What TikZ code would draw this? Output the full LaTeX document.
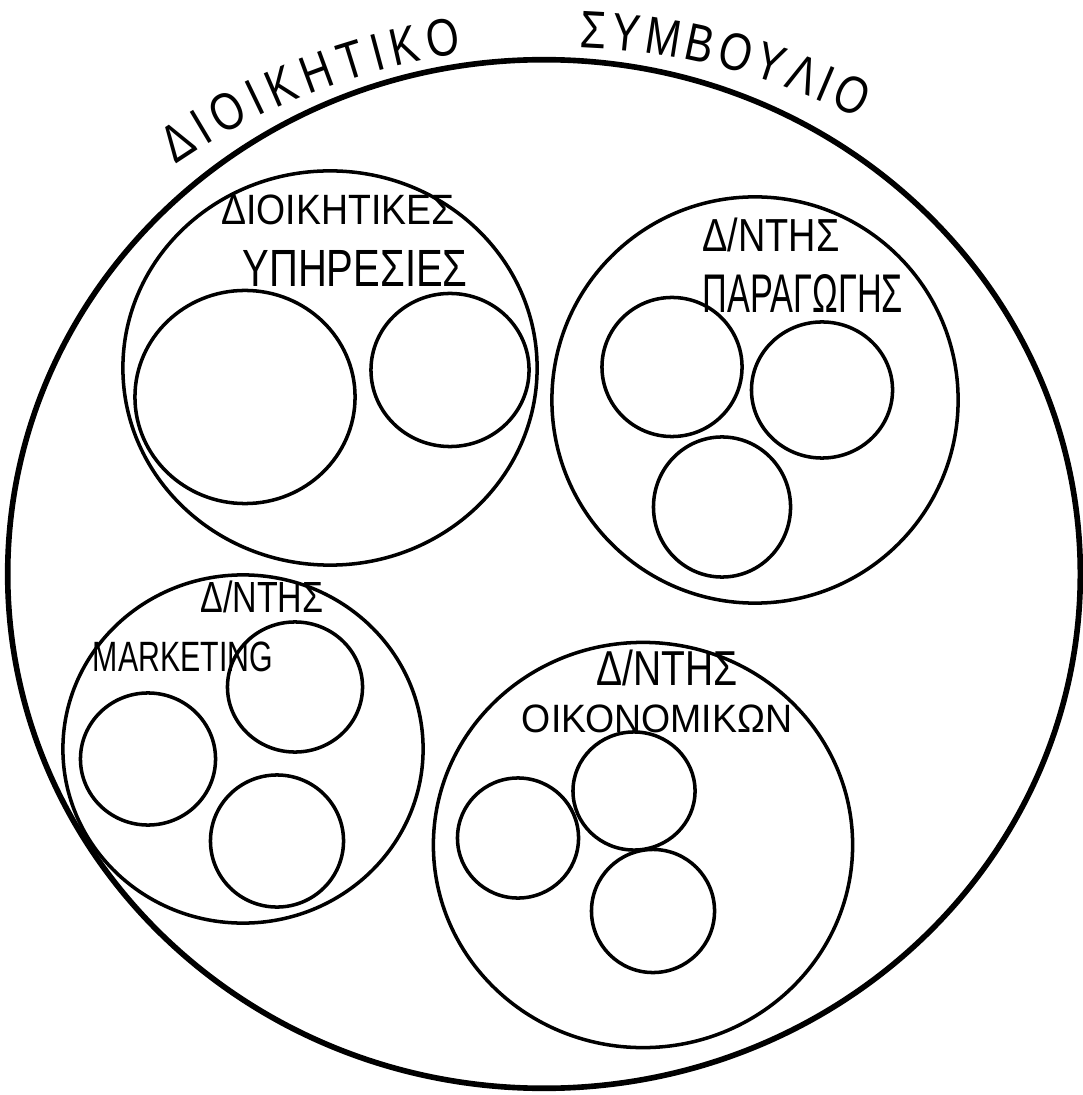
\documentclass[tikz,border=0pt]{standalone}
\usepackage{fontspec}
\setmainfont{Liberation Sans}
\newfontfamily\handfont{Liberation Sans}
\newfontfamily\titlefont[FakeStretch=0.8]{Liberation Sans}
\usepackage{graphicx}
\usetikzlibrary{shapes.geometric,decorations.text}
\newcommand{\hlabel}[3]{\resizebox*{#1}{#2}{\handfont #3}}
\begin{document}
\begin{tikzpicture}[x=0.01cm,y=0.01cm,
  ring/.style={ellipse,draw,line width=1pt,inner sep=0pt},
  outerring/.style={ellipse,draw,line width=1.6pt,inner sep=0pt},
  lab/.style={inner sep=0pt},
  titletext/.style={decorate,decoration={text along path,text align={fit to path},
     text={|\titlefont\fontsize{15}{18}\selectfont|#1}}}]
\useasboundingbox (0,0) rectangle (1082,-1095);

% outer board
\node[outerring,minimum width=10.72cm,minimum height=10.28cm] (board) at (544,-574) {};
\path[titletext={ΔΙΟΙΚΗΤΙΚΟ}] (556,-721) ++(124.4:674) arc[start angle=124.4,end angle=98.0,radius=674];
\path[titletext={ΣΥΜΒΟΥΛΙΟ}] (556,-721) ++(88.0:674) arc[start angle=88.0,end angle=63.3,radius=674];

% administrative services
\node[ring,minimum width=4.14cm,minimum height=3.94cm] (adm) at (330,-368) {};
\node[ring,minimum width=2.20cm,minimum height=2.13cm] (adm1) at (245,-397) {};
\node[ring,minimum width=1.58cm,minimum height=1.53cm] (adm2) at (450,-370) {};
\node[lab] (admt1) at (338,-210) {\hlabel{2.33cm}{0.30cm}{ΔΙΟΙΚΗΤΙΚΕΣ}};
\node[lab] (admt2) at (355,-268) {\hlabel{2.25cm}{0.36cm}{ΥΠΗΡΕΣΙΕΣ}};

% production
\node[ring,minimum width=4.06cm,minimum height=4.06cm] (prod) at (755,-400) {};
\node[ring,minimum width=1.40cm,minimum height=1.39cm] (prod1) at (672,-367) {};
\node[ring,minimum width=1.41cm,minimum height=1.36cm] (prod2) at (822,-390) {};
\node[ring,minimum width=1.37cm,minimum height=1.40cm] (prod3) at (722,-507) {};
\node[lab] (prodt1) at (771,-235) {\hlabel{1.37cm}{0.34cm}{Δ/ΝΤΗΣ}};
\node[lab] (prodt2) at (803,-293) {\hlabel{2.00cm}{0.38cm}{ΠΑΡΑΓΩΓΗΣ}};

% marketing
\node[ring,minimum width=3.60cm,minimum height=3.48cm] (mkt) at (243,-749) {};
\node[ring,minimum width=1.35cm,minimum height=1.30cm] (mkt1) at (295,-687) {};
\node[ring,minimum width=1.35cm,minimum height=1.32cm] (mkt2) at (148,-759) {};
\node[ring,minimum width=1.33cm,minimum height=1.32cm] (mkt3) at (277,-841) {};
\node[lab] (mktt1) at (262,-597) {\hlabel{1.23cm}{0.32cm}{Δ/ΝΤΗΣ}};
\node[lab] (mktt2) at (183,-657) {\hlabel{1.80cm}{0.30cm}{MARKETING}};

% finance
\node[ring,minimum width=4.19cm,minimum height=4.05cm] (fin) at (643,-845) {};
\node[ring,minimum width=1.22cm,minimum height=1.18cm] (fin1) at (634,-791) {};
\node[ring,minimum width=1.21cm,minimum height=1.20cm] (fin2) at (518,-838) {};
\node[ring,minimum width=1.23cm,minimum height=1.23cm] (fin3) at (653,-911) {};
\node[lab] (fint1) at (667,-668) {\hlabel{1.41cm}{0.36cm}{Δ/ΝΤΗΣ}};
\node[lab] (fint2) at (657,-719) {\hlabel{2.70cm}{0.28cm}{ΟΙΚΟΝΟΜΙΚΩΝ}};
\end{tikzpicture}
\end{document}
